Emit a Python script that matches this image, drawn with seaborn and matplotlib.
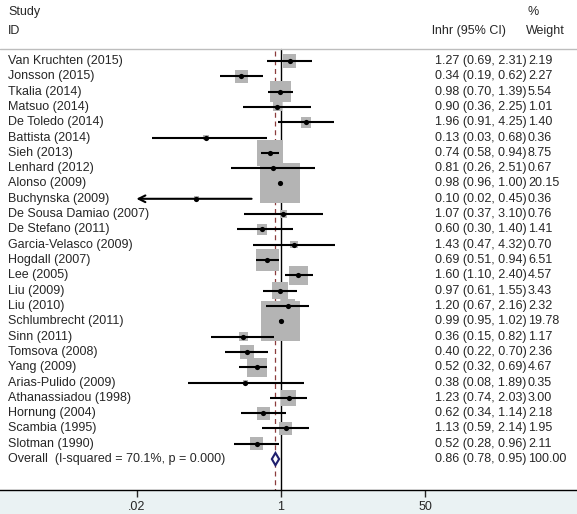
import numpy as np
import pandas as pd
import matplotlib
matplotlib.use("Agg")
import matplotlib.pyplot as plt
import seaborn as sns

# Study data
studies = ["Van Kruchten (2015)", "Jonsson (2015)", "Tkalia (2014)", "Matsuo (2014)",
           "De Toledo (2014)", "Battista (2014)", "Sieh (2013)", "Lenhard (2012)",
           "Alonso (2009)", "Buchynska (2009)", "De Sousa Damiao (2007)", "De Stefano (2011)",
           "Garcia-Velasco (2009)", "Hogdall (2007)", "Lee (2005)", "Liu (2009)",
           "Liu (2010)", "Schlumbrecht (2011)", "Sinn (2011)", "Tomsova (2008)",
           "Yang (2009)", "Arias-Pulido (2009)", "Athanassiadou (1998)", "Hornung (2004)",
           "Scambia (1995)", "Slotman (1990)"]
hr = [1.27, 0.34, 0.98, 0.90, 1.96, 0.13, 0.74, 0.81, 0.98, 0.10, 1.07, 0.60, 1.43,
      0.69, 1.60, 0.97, 1.20, 0.99, 0.36, 0.40, 0.52, 0.38, 1.23, 0.62, 1.13, 0.52]
lo = [0.69, 0.19, 0.70, 0.36, 0.91, 0.03, 0.58, 0.26, 0.96, 0.02, 0.37, 0.30, 0.47,
      0.51, 1.10, 0.61, 0.67, 0.95, 0.15, 0.22, 0.32, 0.08, 0.74, 0.34, 0.59, 0.28]
hi = [2.31, 0.62, 1.39, 2.25, 4.25, 0.68, 0.94, 2.51, 1.00, 0.45, 3.10, 1.40, 4.32,
      0.94, 2.40, 1.55, 2.16, 1.02, 0.82, 0.70, 0.69, 1.89, 2.03, 1.14, 2.14, 0.96]
weight = [2.19, 2.27, 5.54, 1.01, 1.40, 0.36, 8.75, 0.67, 20.15, 0.36, 0.76, 1.41, 0.70,
          6.51, 4.57, 3.43, 2.32, 19.78, 1.17, 2.36, 4.67, 0.35, 3.00, 2.18, 1.95, 2.11]
overall_label = "Overall  (I-squared = 70.1%, p = 0.000)"
overall = [0.86, 0.78, 0.95]
overall_weight = 100.00
xticks = [0.02, 1, 50]
xticklabels = [".02", "1", "50"]

df = pd.DataFrame({"study": studies, "hr": hr, "lo": lo, "hi": hi, "weight": weight})
df["row"] = np.arange(len(df))
# box side ~ sqrt(weight), in points^2 for scatter
df["box"] = (40 * np.sqrt(df.weight / df.weight.max()) * 0.72) ** 2

sns.set_style("white")
plt.rcParams["font.family"] = ["Liberation Sans", "DejaVu Sans"]
fs = 9

fig = plt.figure(figsize=(5.77, 5.14), dpi=100)
fig.patch.set_facecolor("#eaf2f3")
ax = fig.add_axes([0, 24 / 514, 1, 490 / 514])
ax.set_facecolor("white")
ax.set_xscale("log")
px_dec = 84.8
ax.set_xlim(10 ** (-281 / px_dec), 10 ** ((577 - 281) / px_dec))
row_h = 15.31
ax.set_ylim((490 - 61) / row_h, -61 / row_h)

# weight boxes
sns.scatterplot(data=df, x="hr", y="row", marker="s", s=df["box"], color="#b4b4b4",
                linewidth=0, ax=ax, zorder=2, legend=False)

# confidence intervals
arrow_min = xticks[0]
for _, r in df.iterrows():
    if r.lo <= arrow_min:
        ax.annotate("", xy=(arrow_min * 0.985, r.row), xytext=(r.hi, r.row),
                    arrowprops=dict(arrowstyle="->", color="black", lw=1.5,
                                    shrinkA=0, shrinkB=0, mutation_scale=12), zorder=3)
    else:
        ax.plot([r.lo, r.hi], [r.row, r.row], color="black", lw=1.5, zorder=3,
                solid_capstyle="butt")

# point estimates
sns.scatterplot(data=df, x="hr", y="row", marker="o", s=14, color="black",
                linewidth=0, ax=ax, zorder=4, legend=False)

# overall diamond
orow = len(df)
est, olo, ohi = overall
ax.fill([olo, est, ohi, est, olo], [orow, orow - 0.4, orow, orow + 0.4, orow],
        facecolor="white", edgecolor="#1f1f6e", lw=1.5, zorder=5)

# reference lines
top = -0.78
ax.plot([1, 1], [top, ax.get_ylim()[0]], color="black", lw=1, zorder=1)
ax.plot([est, est], [top + 0.1, ax.get_ylim()[0]], color="#8c3c3c", lw=0.9,
        ls=(0, (4, 3)), zorder=1)
ax.axhline(top, color="#bdbdbd", lw=1)

# text columns
tr = ax.get_yaxis_transform()
for i, s in enumerate(studies + [overall_label]):
    ax.text(8 / 577, i, s, transform=tr, va="center", ha="left", fontsize=fs)
vals = [f"{a:.2f} ({b:.2f}, {c:.2f})" for a, b, c in zip(hr, lo, hi)]
vals.append(f"{overall[0]:.2f} ({overall[1]:.2f}, {overall[2]:.2f})")
wts = [f"{w:.2f}" for w in weight] + [f"{overall_weight:.2f}"]
for i, (v, w) in enumerate(zip(vals, wts)):
    ax.text(435 / 577, i, v, transform=tr, va="center", ha="left", fontsize=fs)
    ax.text(528 / 577, i, w, transform=tr, va="center", ha="left", fontsize=fs)

# header
ax.text(8 / 577, -3.2, "Study", transform=tr, va="center", ha="left", fontsize=fs)
ax.text(8 / 577, -1.98, "ID", transform=tr, va="center", ha="left", fontsize=fs)
ax.text(432 / 577, -1.98, "lnhr (95% CI)", transform=tr, va="center", ha="left", fontsize=fs)
ax.text(527 / 577, -3.2, "%", transform=tr, va="center", ha="left", fontsize=fs)
ax.text(526 / 577, -1.98, "Weight", transform=tr, va="center", ha="left", fontsize=fs)

# x axis
ax.set_xticks(xticks)
ax.set_xticklabels(xticklabels, fontsize=fs)
ax.xaxis.set_minor_locator(matplotlib.ticker.NullLocator())
ax.tick_params(axis="x", direction="out", length=5, width=1, pad=3, bottom=True)
ax.set_yticks([])
ax.set_xlabel("")
ax.set_ylabel("")
for side in ["left", "right", "top"]:
    ax.spines[side].set_visible(False)
ax.spines["bottom"].set_color("black")
ax.spines["bottom"].set_linewidth(1)

fig.savefig("out.png", dpi=100, facecolor=fig.get_facecolor())
